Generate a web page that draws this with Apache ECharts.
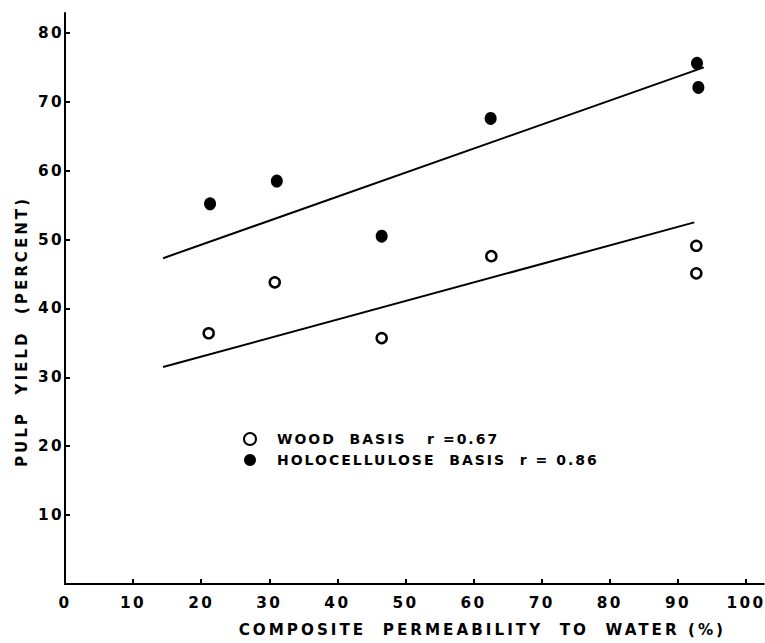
<!DOCTYPE html>
<html>
<head>
<meta charset="utf-8">
<script src="https://cdn.jsdelivr.net/npm/echarts@6/dist/echarts.min.js"></script>
<style>
html, body { margin: 0; padding: 0; background: #fff; }
#chart { width: 765px; height: 643px; }
#chart text { letter-spacing: 3px; white-space: pre; }
#chart text[style*="14px"] { letter-spacing: 2px; }
#chart text[style*="15.3px"] { letter-spacing: 2.4px; }
</style>
</head>
<body>
<div id="chart"></div>
<script>
// Tick values
const xTicks = [0, 10, 20, 30, 40, 50, 60, 70, 80, 90, 100];
const yTicks = [10, 20, 30, 40, 50, 60, 70, 80];

// Wood basis (open circles)
const woodX = [21.1, 30.8, 46.5, 62.6, 92.7, 92.7];
const woodY = [36.4, 43.8, 35.7, 47.6, 49.1, 45.1];
// Holocellulose basis (filled circles)
const holoX = [21.3, 31.1, 46.5, 62.5, 92.8, 93.0];
const holoY = [55.2, 58.5, 50.5, 67.6, 75.6, 72.1];

// Regression lines (end points)
const woodFitX = [14.4, 92.4];
const woodFitY = [31.5, 52.5];
const holoFitX = [14.4, 93.8];
const holoFitY = [47.3, 75.0];

const seriesNames = ['WOOD  BASIS', 'HOLOCELLULOSE  BASIS'];
const rLabels = ['   r =0.67', '  r = 0.86'];

const zip = (a, b) => a.map((v, i) => [v, b[i]]);
const FONT = 'DejaVu Sans';

const chart = echarts.init(document.getElementById('chart'), null, { renderer: 'svg' });
chart.setOption({
  animation: false,
  backgroundColor: '#fff',
  grid: { left: 65, right: 0, top: 13, bottom: 59 },
  xAxis: {
    type: 'value', min: 0, max: 102.6,
    name: 'COMPOSITE  PERMEABILITY  TO  WATER (%)',
    nameLocation: 'middle', nameGap: 38,
    nameTextStyle: { color: '#000', fontFamily: FONT, fontWeight: 'bold', fontSize: 15.2, padding: [0, 0, 0, 136] },
    axisLine: { lineStyle: { color: '#000', width: 2 } },
    axisTick: { inside: true, length: 5, lineStyle: { color: '#000', width: 2 }, customValues: xTicks },
    axisLabel: { color: '#000', fontFamily: FONT, fontWeight: 'bold', fontSize: 15.3, margin: 11, customValues: xTicks },
    splitLine: { show: false }
  },
  yAxis: {
    type: 'value', min: 0, max: 82.9,
    name: 'PULP  YIELD  (PERCENT)',
    nameLocation: 'middle', nameGap: 36,
    nameTextStyle: { color: '#000', fontFamily: FONT, fontWeight: 'bold', fontSize: 15.1, padding: [0, 66, 0, 0] },
    axisLine: { lineStyle: { color: '#000', width: 2 } },
    axisTick: { inside: true, length: 5, lineStyle: { color: '#000', width: 2 }, customValues: yTicks },
    axisLabel: { color: '#000', fontFamily: FONT, fontWeight: 'bold', fontSize: 15.3, margin: 1, customValues: yTicks },
    splitLine: { show: false }
  },
  legend: {
    orient: 'vertical', left: 238, top: 427,
    itemWidth: 12, itemHeight: 12, itemGap: 7,
    data: seriesNames,
    formatter: function (name) {
      const i = seriesNames.indexOf(name);
      return name + rLabels[i];
    },
    textStyle: { color: '#000', fontFamily: FONT, fontWeight: 'bold', fontSize: 14, padding: [0, 0, 0, 16] }
  },
  series: [
    {
      name: seriesNames[0], type: 'scatter', data: zip(woodX, woodY),
      symbol: 'circle', symbolSize: 10,
      itemStyle: { color: '#fff', borderColor: '#000', borderWidth: 2.5, opacity: 1 },
      z: 3
    },
    {
      name: seriesNames[1], type: 'scatter', data: zip(holoX, holoY),
      symbol: 'circle', symbolSize: [12, 13],
      itemStyle: { color: '#000', opacity: 1 },
      z: 3
    },
    {
      name: 'wood fit', type: 'line', data: zip(woodFitX, woodFitY),
      showSymbol: false, symbol: 'none',
      lineStyle: { color: '#000', width: 2 }, z: 2
    },
    {
      name: 'holo fit', type: 'line', data: zip(holoFitX, holoFitY),
      showSymbol: false, symbol: 'none',
      lineStyle: { color: '#000', width: 2 }, z: 2
    }
  ]
});
</script>
</body>
</html>
